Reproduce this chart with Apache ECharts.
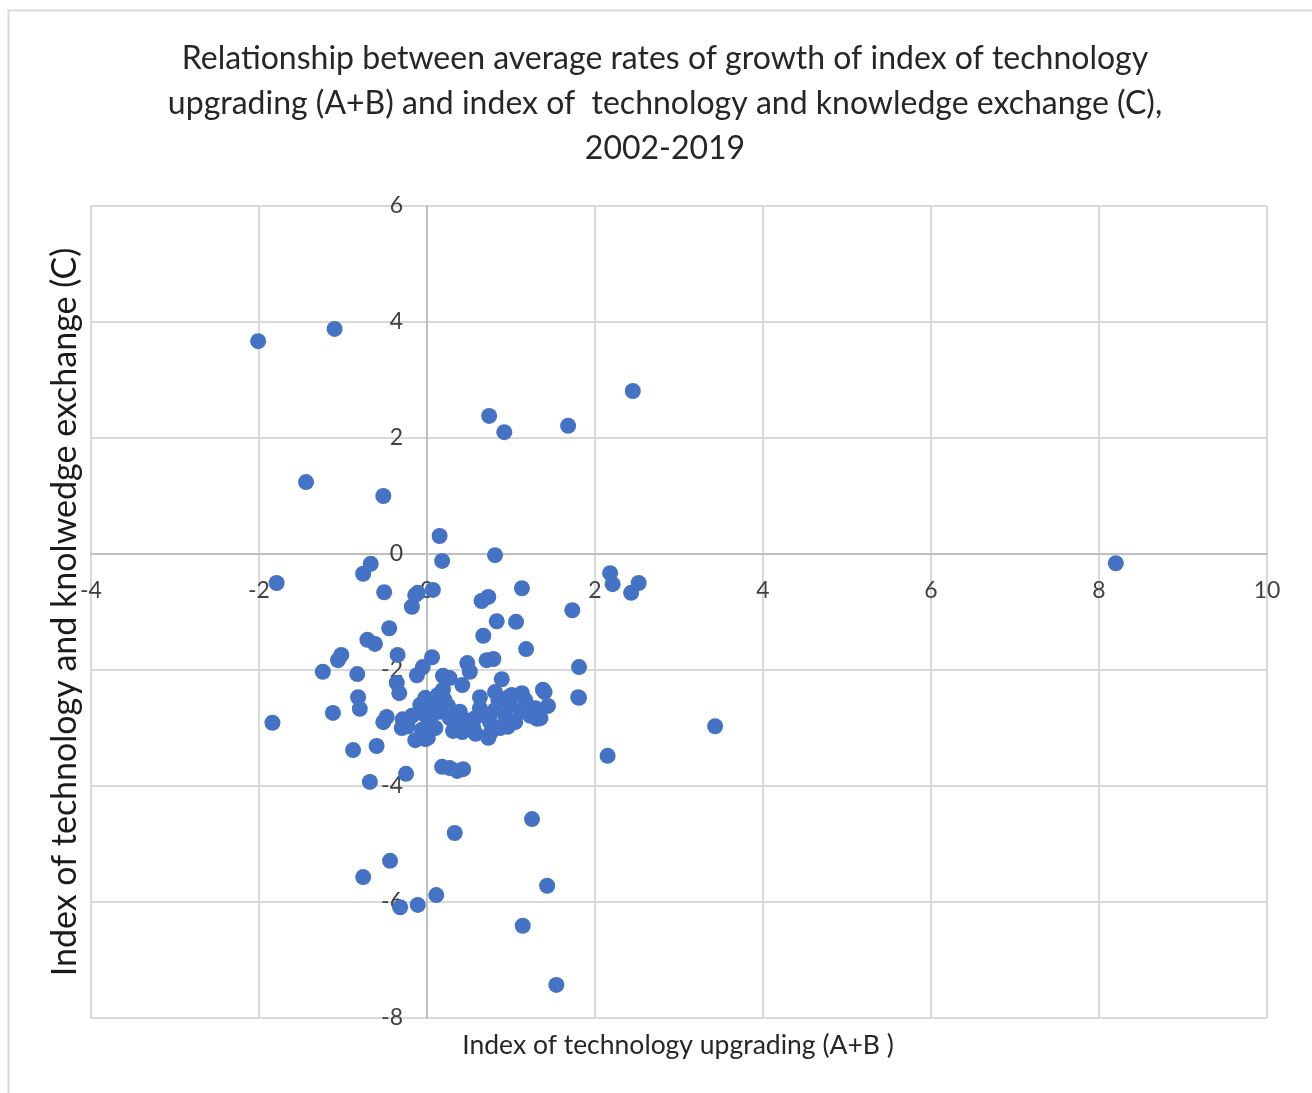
<!DOCTYPE html>
<html>
<head>
<meta charset="utf-8">
<script src="https://cdn.jsdelivr.net/npm/echarts@6/dist/echarts.min.js"></script>
<style>
  html, body { margin: 0; padding: 0; background: #fff; }
  #chart { width: 1312px; height: 1093px; }
</style>
</head>
<body>
<div id="chart"></div>
<script>
// Index of technology upgrading (A+B)
var upgrading = [
  -2.01, -1.10, 2.45, 0.74, 0.92, 1.68, -1.44, -0.52, 0.15, 0.18, 0.81, 8.20,
  -1.79, -0.76, -0.67, -0.51, -0.18, -0.14, -0.11, 0.07, -0.45, -0.71, -0.62,
  -1.02, -1.06, -1.24, -0.83, -0.35, -0.36, -0.33, -0.12, -0.05, 0.06, -0.82,
  -0.80, -1.12, -1.84, -0.88, -0.60, -0.25, -0.68, -0.48, -0.52, -0.29, -0.30,
  0.19, 0.27, 0.42, 0.48, 0.51, 0.71, 0.79, 1.18, 1.81, 1.38, 1.40, 1.80, 1.81,
  1.13, 0.63, 0.81, 0.96, 1.44, 1.23, 1.31, 0.55, 0.75, 0.96, 0.31, -0.02,
  2.15, 0.18, 0.27, 0.36, 0.43, 1.25, 3.43, 0.33, -0.44, -0.76, -0.32, -0.11,
  0.11, 1.43, 1.14, 1.54, 1.73, 1.13, 1.06, 0.83, 0.67, 0.65, 0.73, 2.18, 2.21,
  2.43, 2.52, 0.89,
  -0.08, -0.02, 0.04, -0.06, 0.01, 0.10, 0.15, 0.21, 0.27, 0.33, 0.13, 0.19,
  0.25, 0.39, 0.45, 0.57, 0.63, 0.69, 0.75, 0.81, 0.87, 0.93, 0.99, 1.05, 1.11,
  1.17, 1.29, 1.35, -0.18, -0.23, -0.14, -0.02, 0.07, 0.42, 0.58, 0.73, 0.85, 1.01
];
// Index of technology and knowledge exchange (C)
var exchange = [
  3.67, 3.88, 2.81, 2.38, 2.10, 2.21, 1.24, 1.00, 0.31, -0.12, -0.02, -0.16,
  -0.50, -0.34, -0.17, -0.66, -0.91, -0.71, -0.67, -0.62, -1.28, -1.48, -1.55,
  -1.74, -1.83, -2.03, -2.07, -1.74, -2.22, -2.40, -2.09, -1.95, -1.78, -2.47,
  -2.67, -2.74, -2.91, -3.38, -3.31, -3.79, -3.93, -2.81, -2.90, -2.85, -3.00,
  -2.10, -2.14, -2.26, -1.88, -2.03, -1.83, -1.81, -1.64, -1.95, -2.34, -2.38, -2.47, -2.48,
  -2.40, -2.47, -2.38, -2.48, -2.62, -2.79, -2.84, -3.00, -3.10, -2.98, -3.05, -3.19,
  -3.48, -3.67, -3.69, -3.74, -3.71, -4.57, -2.97, -4.81, -5.29, -5.57, -6.09, -6.05,
  -5.88, -5.72, -6.41, -7.43, -0.97, -0.59, -1.17, -1.16, -1.41, -0.81, -0.74, -0.33, -0.52,
  -0.67, -0.50, -2.16,
  -2.60, -2.78, -2.86, -3.03, -3.17, -3.00, -2.72, -2.52, -2.83, -2.95, -2.43, -2.34,
  -2.62, -2.72, -2.86, -2.83, -2.66, -2.78, -2.90, -2.69, -3.00, -2.79, -2.60, -2.90, -2.72,
  -2.52, -2.66, -2.83, -2.79, -2.97, -3.21, -2.48, -2.60, -3.07, -3.10, -3.17, -2.52, -2.43
];

var points = upgrading.map(function (x, i) { return [x, exchange[i]]; });

var chart = echarts.init(document.getElementById('chart'));
var font = 'Lato, "Open Sans", sans-serif';

chart.setOption({
  backgroundColor: '#fff',
  animation: false,
  title: {
    text: 'Relationship between average rates of growth of index of technology\nupgrading (A+B) and index of  technology and knowledge exchange (C),\n2002-2019',
    left: 660,
    top: 31,
    textAlign: 'center',
    textStyle: {
      fontFamily: font,
      fontSize: 32,
      fontWeight: 'normal',
      color: '#262626',
      lineHeight: 45
    }
  },
  graphic: [
    {
      type: 'rect',
      shape: { x: 8.5, y: 10.5, width: 1320, height: 1100 },
      style: { fill: 'none', stroke: '#d9d9d9', lineWidth: 2 },
      silent: true
    },
    {
      type: 'text',
      x: 678,
      y: 1045,
      style: {
        text: 'Index of technology upgrading (A+B )',
        fontFamily: font,
        fontSize: 26.5,
        fill: '#262626',
        align: 'center',
        verticalAlign: 'middle'
      }
    },
    {
      type: 'text',
      x: 65,
      y: 612,
      rotation: Math.PI / 2,
      style: {
        text: 'Index of technology and knolwedge exchange (C)',
        fontFamily: font,
        fontSize: 34,
        fill: '#1a1a1a',
        align: 'center',
        verticalAlign: 'middle'
      }
    }
  ],
  grid: { left: 91, right: 45, top: 206, bottom: 75 },
  xAxis: {
    type: 'value',
    min: -4,
    max: 10,
    interval: 2,
    offset: -464,
    axisLine: { onZero: false, lineStyle: { color: '#bfbfbf', width: 2 } },
    axisTick: { show: false },
    axisLabel: { fontFamily: font, fontSize: 23, color: '#404040', margin: 25 },
    splitLine: { show: true, lineStyle: { color: '#d9d9d9', width: 2 } }
  },
  yAxis: {
    type: 'value',
    min: -8,
    max: 6,
    interval: 2,
    offset: -336,
    axisLine: { onZero: false, lineStyle: { color: '#bfbfbf', width: 2 } },
    axisTick: { show: false },
    axisLabel: { fontFamily: font, fontSize: 23, color: '#404040', margin: 24 },
    splitLine: { show: true, lineStyle: { color: '#d9d9d9', width: 2 } }
  },
  series: [
    {
      type: 'scatter',
      data: points,
      symbol: 'circle',
      symbolSize: 16,
      itemStyle: { color: '#4472C4', opacity: 1 }
    }
  ]
});
</script>
</body>
</html>
